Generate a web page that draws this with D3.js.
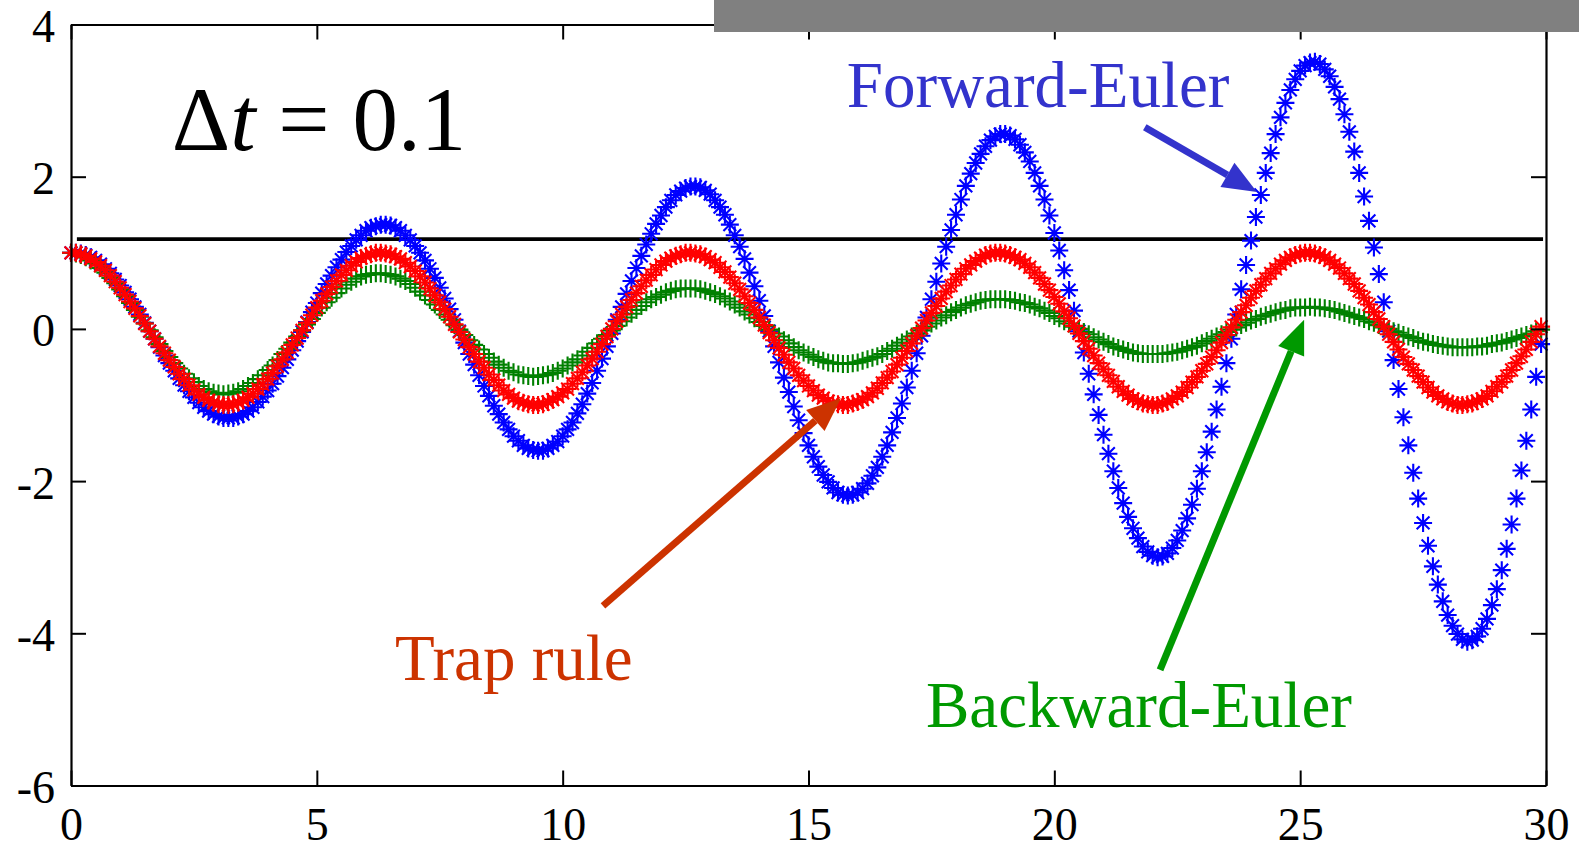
<!DOCTYPE html>
<html>
<head>
<meta charset="utf-8">
<script src="https://cdn.jsdelivr.net/npm/d3@7"></script>
<style>
body { margin: 0; background: #fff; }
text { font-family: "Liberation Serif", "Times New Roman", serif; }
</style>
</head>
<body>
<svg id="chart" width="1579" height="851"></svg>
<script>
// sampling step of the three integrators (t = i * dt)
var dt = 0.1;

var forwardEuler = [
1.00,1.00,0.99,0.97,0.94,0.90,0.85,0.79,0.73,0.65,
0.57,0.48,0.39,0.29,0.19,0.08,-0.03,-0.13,-0.24,-0.35,
-0.45,-0.55,-0.65,-0.74,-0.82,-0.90,-0.97,-1.03,-1.08,-1.12,
-1.15,-1.17,-1.17,-1.17,-1.15,-1.12,-1.08,-1.03,-0.96,-0.89,
-0.81,-0.72,-0.62,-0.51,-0.40,-0.28,-0.16,-0.04,0.09,0.22,
0.34,0.47,0.59,0.70,0.81,0.91,1.01,1.09,1.17,1.23,
1.29,1.33,1.35,1.37,1.37,1.36,1.33,1.29,1.23,1.17,
1.09,1.00,0.90,0.79,0.67,0.54,0.40,0.26,0.12,-0.03,
-0.18,-0.33,-0.47,-0.61,-0.75,-0.88,-1.01,-1.12,-1.23,-1.32,
-1.41,-1.47,-1.53,-1.57,-1.59,-1.60,-1.60,-1.57,-1.53,-1.48,
-1.41,-1.32,-1.23,-1.11,-0.99,-0.85,-0.71,-0.55,-0.39,-0.23,
-0.06,0.12,0.29,0.46,0.63,0.80,0.96,1.11,1.25,1.38,
1.49,1.60,1.69,1.76,1.81,1.85,1.87,1.87,1.86,1.82,
1.77,1.69,1.60,1.50,1.37,1.23,1.08,0.92,0.74,0.56,
0.37,0.17,-0.03,-0.23,-0.44,-0.64,-0.83,-1.02,-1.20,-1.37,
-1.53,-1.68,-1.81,-1.92,-2.01,-2.09,-2.15,-2.18,-2.19,-2.18,
-2.15,-2.10,-2.03,-1.93,-1.82,-1.68,-1.53,-1.36,-1.17,-0.98,
-0.77,-0.55,-0.32,-0.09,0.15,0.39,0.62,0.86,1.08,1.30,
1.50,1.70,1.88,2.04,2.18,2.30,2.40,2.48,2.53,2.56,
2.56,2.54,2.49,2.42,2.32,2.20,2.05,1.88,1.70,1.49,
1.26,1.03,0.77,0.51,0.24,-0.03,-0.31,-0.59,-0.86,-1.13,
-1.39,-1.64,-1.87,-2.09,-2.29,-2.47,-2.62,-2.75,-2.86,-2.93,
-2.98,-3.00,-2.99,-2.95,-2.88,-2.78,-2.65,-2.49,-2.31,-2.10,
-1.87,-1.62,-1.35,-1.06,-0.76,-0.45,-0.13,0.19,0.52,0.84,
1.16,1.47,1.76,2.05,2.31,2.56,2.78,2.97,3.14,3.28,
3.39,3.46,3.50,3.51,3.48,3.41,3.32,3.18,3.02,2.82,
2.59,2.33,2.05,1.74,1.42,1.07,0.72,0.35,-0.03,-0.41,
-0.79,-1.16,-1.53,-1.89,-2.23,-2.55,-2.85,-3.12,-3.36,-3.58,
-3.76,-3.90,-4.01,-4.08,-4.11,-4.09,-4.04,-3.94,-3.81,-3.63,
-3.42,-3.17,-2.89,-2.57,-2.23,-1.86,-1.47,-1.06,-0.63,-0.20
];

var backwardEuler = [
1.00,0.99,0.97,0.94,0.90,0.86,0.80,0.74,0.67,0.60,
0.52,0.43,0.34,0.25,0.16,0.07,-0.02,-0.11,-0.20,-0.29,
-0.37,-0.45,-0.52,-0.59,-0.65,-0.70,-0.75,-0.79,-0.82,-0.84,
-0.85,-0.86,-0.85,-0.84,-0.82,-0.79,-0.75,-0.71,-0.66,-0.61,
-0.54,-0.48,-0.41,-0.33,-0.26,-0.18,-0.10,-0.02,0.06,0.13,
0.21,0.28,0.35,0.41,0.47,0.53,0.58,0.62,0.66,0.69,
0.71,0.72,0.73,0.73,0.72,0.71,0.69,0.66,0.63,0.59,
0.54,0.49,0.44,0.38,0.32,0.25,0.19,0.12,0.05,-0.01,
-0.08,-0.15,-0.21,-0.27,-0.33,-0.38,-0.43,-0.47,-0.51,-0.55,
-0.57,-0.60,-0.61,-0.62,-0.63,-0.62,-0.61,-0.60,-0.58,-0.55,
-0.52,-0.48,-0.44,-0.40,-0.35,-0.30,-0.25,-0.19,-0.13,-0.08,
-0.02,0.04,0.10,0.15,0.20,0.25,0.30,0.35,0.39,0.42,
0.45,0.48,0.50,0.52,0.53,0.53,0.53,0.53,0.52,0.50,
0.48,0.46,0.43,0.40,0.36,0.32,0.28,0.23,0.19,0.14,
0.09,0.04,-0.01,-0.06,-0.10,-0.15,-0.19,-0.24,-0.28,-0.31,
-0.34,-0.37,-0.40,-0.42,-0.44,-0.45,-0.45,-0.46,-0.46,-0.45,
-0.44,-0.42,-0.40,-0.38,-0.36,-0.33,-0.29,-0.26,-0.22,-0.18,
-0.14,-0.10,-0.06,-0.02,0.03,0.07,0.11,0.15,0.18,0.22,
0.25,0.28,0.31,0.33,0.35,0.37,0.38,0.39,0.39,0.39,
0.39,0.38,0.37,0.35,0.34,0.32,0.29,0.27,0.24,0.21,
0.17,0.14,0.10,0.07,0.03,0.00,-0.04,-0.07,-0.11,-0.14,
-0.17,-0.20,-0.23,-0.25,-0.27,-0.29,-0.31,-0.32,-0.33,-0.33,
-0.33,-0.33,-0.33,-0.32,-0.31,-0.30,-0.28,-0.26,-0.24,-0.22,
-0.19,-0.16,-0.13,-0.10,-0.07,-0.04,-0.01,0.02,0.05,0.08,
0.11,0.13,0.16,0.18,0.20,0.22,0.24,0.25,0.27,0.28,
0.28,0.28,0.29,0.28,0.28,0.27,0.26,0.25,0.23,0.21,
0.19,0.17,0.15,0.13,0.10,0.08,0.05,0.02,0.00,-0.03,
-0.05,-0.08,-0.10,-0.12,-0.15,-0.17,-0.18,-0.20,-0.21,-0.22,
-0.23,-0.24,-0.24,-0.24,-0.24,-0.24,-0.23,-0.23,-0.22,-0.20,
-0.19,-0.18,-0.16,-0.14,-0.12,-0.10,-0.08,-0.06,-0.03,-0.01
];

var trapRule = [
1.00,1.00,0.98,0.96,0.92,0.88,0.83,0.77,0.70,0.62,
0.54,0.45,0.36,0.27,0.17,0.07,-0.03,-0.13,-0.23,-0.32,
-0.41,-0.50,-0.59,-0.66,-0.74,-0.80,-0.86,-0.90,-0.94,-0.97,
-0.99,-1.00,-1.00,-0.99,-0.97,-0.94,-0.90,-0.85,-0.79,-0.73,
-0.66,-0.58,-0.49,-0.40,-0.31,-0.21,-0.12,-0.02,0.08,0.18,
0.28,0.37,0.46,0.55,0.63,0.71,0.77,0.83,0.88,0.93,
0.96,0.98,1.00,1.00,0.99,0.98,0.95,0.92,0.87,0.82,
0.76,0.69,0.61,0.53,0.44,0.35,0.26,0.16,0.06,-0.04,
-0.14,-0.24,-0.33,-0.43,-0.51,-0.60,-0.67,-0.74,-0.81,-0.86,
-0.91,-0.95,-0.97,-0.99,-1.00,-1.00,-0.99,-0.96,-0.93,-0.89,
-0.84,-0.79,-0.72,-0.65,-0.57,-0.48,-0.39,-0.30,-0.20,-0.10,
0.00,0.10,0.19,0.29,0.38,0.47,0.56,0.64,0.71,0.78,
0.84,0.89,0.93,0.96,0.98,1.00,1.00,0.99,0.98,0.95,
0.91,0.87,0.81,0.75,0.68,0.60,0.52,0.43,0.34,0.25,
0.15,0.05,-0.05,-0.15,-0.25,-0.34,-0.44,-0.52,-0.61,-0.68,
-0.75,-0.81,-0.87,-0.91,-0.95,-0.98,-0.99,-1.00,-1.00,-0.98,
-0.96,-0.93,-0.89,-0.84,-0.78,-0.71,-0.64,-0.56,-0.47,-0.38,
-0.29,-0.19,-0.09,0.01,0.11,0.21,0.30,0.40,0.49,0.57,
0.65,0.72,0.79,0.84,0.89,0.93,0.97,0.99,1.00,1.00,
0.99,0.97,0.94,0.91,0.86,0.81,0.74,0.67,0.59,0.51,
0.42,0.33,0.23,0.14,0.04,-0.06,-0.16,-0.26,-0.35,-0.45,
-0.53,-0.61,-0.69,-0.76,-0.82,-0.87,-0.92,-0.95,-0.98,-0.99,
-1.00,-1.00,-0.98,-0.96,-0.92,-0.88,-0.83,-0.77,-0.70,-0.63,
-0.55,-0.46,-0.37,-0.28,-0.18,-0.08,0.02,0.12,0.22,0.31,
0.41,0.50,0.58,0.66,0.73,0.79,0.85,0.90,0.94,0.97,
0.99,1.00,1.00,0.99,0.97,0.94,0.90,0.85,0.80,0.73,
0.66,0.59,0.50,0.41,0.32,0.22,0.13,0.03,-0.07,-0.17,
-0.27,-0.37,-0.46,-0.54,-0.62,-0.70,-0.77,-0.83,-0.88,-0.92,
-0.96,-0.98,-1.00,-1.00,-0.99,-0.98,-0.95,-0.92,-0.88,-0.82,
-0.76,-0.70,-0.62,-0.54,-0.45,-0.36,-0.27,-0.17,-0.07,0.03
];

var xTicks = [0, 5, 10, 15, 20, 25, 30];
var yTicks = [-6, -4, -2, 0, 2, 4];
var refLevel = 1.18;

var series = [
	{ name: "Forward-Euler", values: forwardEuler, color: "#0000ff", marker: "star" },
	{ name: "Backward-Euler", values: backwardEuler, color: "#008000", marker: "plus" },
	{ name: "Trap rule", values: trapRule, color: "#ff0000", marker: "star" }
];

// annotation text and arrows, placed in data units
var notes = [
	{ text: "Forward-Euler", t: 15.78, v: 2.92, color: "#3333cc" },
	{ text: "Trap rule", t: 6.59, v: -4.61, color: "#cc3300" },
	{ text: "Backward-Euler", t: 17.39, v: -5.23, color: "#009900" }
];
var arrows = [
	{ from: [21.84, 2.65], to: [24.12, 1.80], color: "#3333cc" },
	{ from: [10.82, -3.64], to: [15.66, -0.91], color: "#cc3300" },
	{ from: [22.15, -4.48], to: [25.08, 0.12], color: "#009900" }
];

var margin = { left: 71, right: 33, top: 24.5, bottom: 65.5 };
var W = 1579, H = 851;

var svg = d3.select("#chart");

var x = d3.scaleLinear().domain([0, 30]).range([margin.left, W - margin.right]);
var y = d3.scaleLinear().domain([-6, 4]).range([H - margin.bottom, margin.top]);

// reference line
svg.append("line")
	.attr("x1", x(0.12)).attr("x2", x(29.94))
	.attr("y1", y(refLevel)).attr("y2", y(refLevel))
	.attr("stroke", "#000").attr("stroke-width", 3.8);

// markers
function markerPath(kind) {
	var r = 9, d = 6.4;
	if (kind == "plus") {
		return "M" + (-r) + ",0H" + r + "M0," + (-r) + "V" + r;
	}
	return "M" + (-r) + ",0H" + r + "M0," + (-r) + "V" + r +
		"M" + (-d) + "," + (-d) + "L" + d + "," + d +
		"M" + (-d) + "," + d + "L" + d + "," + (-d);
}

series.forEach(function (s) {
	svg.append("g")
		.attr("class", "series")
		.attr("fill", "none")
		.attr("stroke", s.color)
		.attr("stroke-width", 2.1)
		.selectAll("path")
		.data(s.values)
		.enter().append("path")
		.attr("d", markerPath(s.marker))
		.attr("transform", function (v, i) {
			return "translate(" + x(i * dt) + "," + y(v) + ")";
		});
});

// axes, ticks pointing inwards on all four sides
var axisFont = 46;
var plain = function (d) { return String(d); };
var gB = svg.append("g").attr("transform", "translate(0," + y(-6) + ")")
	.call(d3.axisBottom(x).tickValues(xTicks).tickFormat(plain).tickSizeInner(-15).tickSizeOuter(0).tickPadding(22));
var gL = svg.append("g").attr("transform", "translate(" + x(0) + ",0)")
	.call(d3.axisLeft(y).tickValues(yTicks).tickFormat(plain).tickSizeInner(-15).tickSizeOuter(0).tickPadding(16));
var gT = svg.append("g").attr("transform", "translate(0," + y(4) + ")")
	.call(d3.axisTop(x).tickValues(xTicks).tickSizeInner(-15).tickSizeOuter(0).tickFormat(""));
var gR = svg.append("g").attr("transform", "translate(" + x(30) + ",0)")
	.call(d3.axisRight(y).tickValues(yTicks).tickSizeInner(-15).tickSizeOuter(0).tickFormat(""));

[gB, gL, gT, gR].forEach(function (g) {
	g.select(".domain").attr("stroke", "#000").attr("stroke-width", 2.2);
	g.selectAll(".tick line").attr("stroke", "#000").attr("stroke-width", 2);
	g.selectAll("text")
		.attr("fill", "#000")
		.style("font-family", '"Liberation Serif", "Times New Roman", serif')
		.style("font-size", axisFont + "px");
});
gL.selectAll("text").attr("dy", "0.37em");

// grey band at top right
svg.append("rect")
	.attr("x", 714).attr("y", 0)
	.attr("width", W - 714).attr("height", 32)
	.attr("fill", "#808080");

// delta t label
var dtLabel = svg.append("text")
	.attr("x", x(2.05)).attr("y", y(2.35))
	.style("font-size", "91px")
	.style("white-space", "pre")
	.attr("fill", "#000");
dtLabel.append("tspan").text("\u0394");
dtLabel.append("tspan").style("font-style", "italic").text("t");
dtLabel.append("tspan").text(" = 0.1");

// method labels
svg.selectAll("text.note")
	.data(notes)
	.enter().append("text")
	.attr("class", "note")
	.attr("x", function (d) { return x(d.t); })
	.attr("y", function (d) { return y(d.v); })
	.attr("fill", function (d) { return d.color; })
	.style("font-size", "65px")
	.text(function (d) { return d.text; });

// arrows
arrows.forEach(function (a) {
	var x1 = x(a.from[0]), y1 = y(a.from[1]);
	var x2 = x(a.to[0]), y2 = y(a.to[1]);
	var ang = Math.atan2(y2 - y1, x2 - x1);
	var headLen = 34, headHalf = 14;
	var bx = x2 - headLen * Math.cos(ang), by = y2 - headLen * Math.sin(ang);
	svg.append("line")
		.attr("x1", x1).attr("y1", y1)
		.attr("x2", bx).attr("y2", by)
		.attr("stroke", a.color).attr("stroke-width", 7);
	var px = -Math.sin(ang) * headHalf, py = Math.cos(ang) * headHalf;
	svg.append("path")
		.attr("d", "M" + x2 + "," + y2 + "L" + (bx + px) + "," + (by + py) + "L" + (bx - px) + "," + (by - py) + "Z")
		.attr("fill", a.color);
});
</script>
</body>
</html>
